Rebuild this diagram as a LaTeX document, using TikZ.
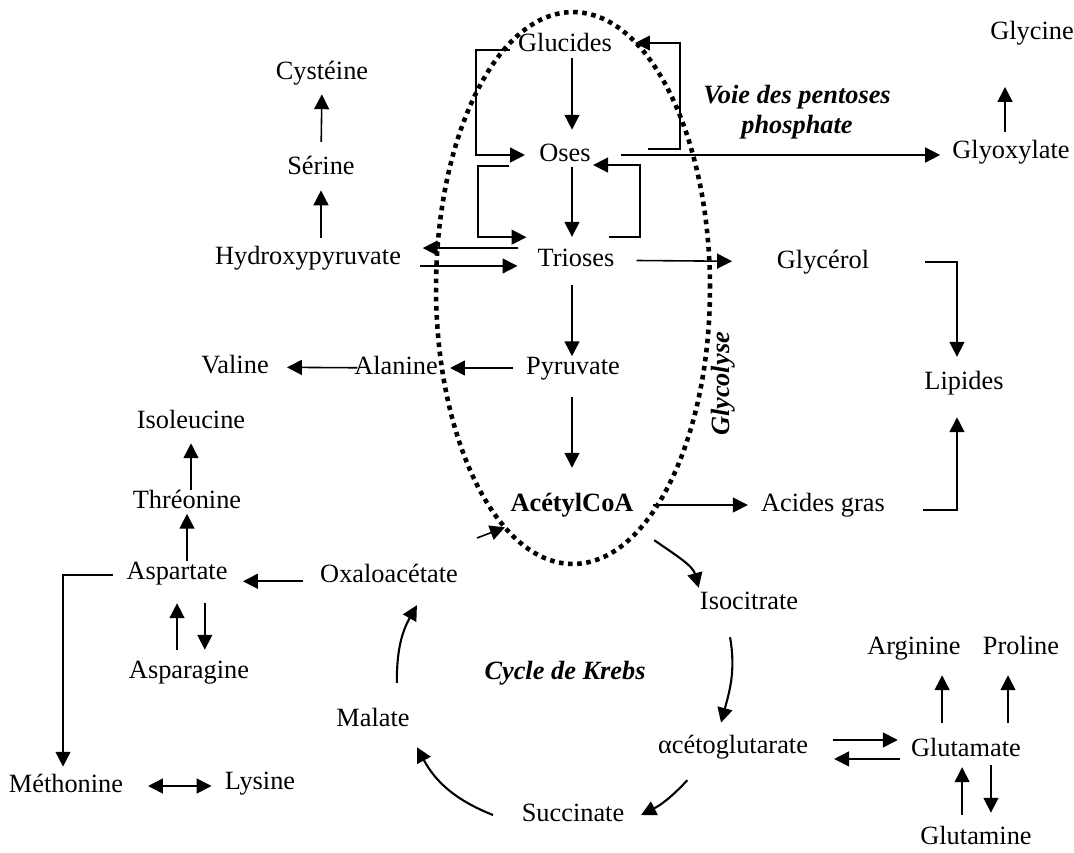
\documentclass[tikz,border=0pt]{standalone}
\usepackage{fontspec}
\setmainfont{Liberation Serif}
\usetikzlibrary{arrows.meta}

\begin{document}
\begin{tikzpicture}[x=0.02cm, y=-0.02cm,
  met/.style={font=\fontsize{15}{17}\selectfont, inner sep=0pt, text height=10pt, text depth=3pt},
  titre/.style={font=\fontsize{15}{17}\selectfont\bfseries\itshape, inner sep=0pt, align=center},
  fleche/.style={-{Triangle[length=8.5pt,width=8.5pt]}, line width=0.9pt},
  courbe/.style={fleche, line width=1.2pt},
  bifleche/.style={{Triangle[length=8.5pt,width=8.5pt]}-{Triangle[length=8.5pt,width=8.5pt]}, line width=0.9pt},
  pointilles/.style={line width=2.6pt, dash pattern=on 2.6pt off 2.6pt}]
  \useasboundingbox (0,0) rectangle (1074,852);

  % glycolyse
  \node[met] (glucides) at (565,45) {Glucides};
  \node[met] (oses) at (565,155) {Oses};
  \node[met] (trioses) at (576,260) {Trioses};
  \node[met] (pyruvate) at (573,368) {Pyruvate};
  \node[met, font=\fontsize{15}{17}\selectfont\bfseries] (acetyl) at (572,505) {AcétylCoA};
  \draw[pointilles] (573,288) ellipse [x radius=2.74cm, y radius=5.52cm];
  \node[titre, rotate=90] (glycolyse) at (723,384) {Glycolyse};

  % cote gauche
  \node[met] (alanine) at (396,368) {Alanine};
  \node[met] (valine) at (235,367) {Valine};
  \node[met] (hydroxy) at (308,258) {Hydroxypyruvate};
  \node[met] (serine) at (321,168) {Sérine};
  \node[met] (cysteine) at (322,73) {Cystéine};

  % cote droit
  \node[titre] (pentoses) at (797,112) {Voie des pentoses\\phosphate};
  \node[met] (glyoxylate) at (1011,152) {Glyoxylate};
  \node[met] (glycine) at (1032,33) {Glycine};
  \node[met] (glycerol) at (823,262) {Glycérol};
  \node[met] (lipides) at (964,383) {Lipides};
  \node[met] (acides) at (823,505) {Acides gras};

  % cycle de Krebs
  \node[titre] (krebs) at (565,673) {Cycle de Krebs};
  \node[met] (isocitrate) at (749,603) {Isocitrate};
  \node[met] (akg) at (733,747) {αcétoglutarate};
  \node[met] (succinate) at (573,815) {Succinate};
  \node[met] (malate) at (373,720) {Malate};
  \node[met] (oxalo) at (389,576) {Oxaloacétate};

  % acides amines
  \node[met] (aspartate) at (177,573) {Aspartate};
  \node[met] (threonine) at (187,502) {Thréonine};
  \node[met] (isoleucine) at (191,422) {Isoleucine};
  \node[met] (asparagine) at (189,672) {Asparagine};
  \node[met] (methonine) at (66,786) {Méthonine};
  \node[met] (lysine) at (260,783) {Lysine};
  \node[met] (glutamate) at (966,750) {Glutamate};
  \node[met] (glutamine) at (976,838) {Glutamine};
  \node[met] (arginine) at (914,648) {Arginine};
  \node[met] (proline) at (1021,648) {Proline};

  % fleches de la glycolyse
  \draw[fleche, shorten <=0.8pt, shorten >=7.7pt] (glucides.south -| acetyl) -- (oses.north -| acetyl);
  \draw[fleche, shorten >=6.5pt] (oses.south -| acetyl) -- (trioses.north -| acetyl);
  \draw[fleche, shorten <=7.7pt] (trioses.south -| acetyl) -- (pyruvate.north -| acetyl);
  \draw[fleche, shorten <=9.9pt, shorten >=14.5pt] (pyruvate.south -| acetyl) -- (acetyl.north);
  \draw[fleche, shorten >=8pt] ([xshift=-4.5pt,yshift=-2.8pt]glucides.west) -- ++(-34,0) |- (oses.west);
  \draw[fleche, shorten >=13pt] ([xshift=32.5pt,yshift=3.4pt]oses.east) -- ++(32,0) |- ([yshift=1.1pt]glucides.east);
  \draw[fleche, shorten >=6.2pt] ([xshift=-17pt,yshift=-6.2pt]oses.west) -- ++(-31,0) |- ([yshift=13pt]trioses.west);
  \draw[fleche, shorten >=1.2pt] ([xshift=-3.4pt,yshift=13pt]trioses.east) -- ++(31,0) |- ([yshift=-5.7pt]oses.east);

  % fleches a gauche
  \draw[fleche, shorten <=7.4pt, shorten >=6.8pt] (pyruvate) -- (alanine);
  \draw[fleche, shorten <=-2pt, shorten >=10.2pt] (alanine) -- (valine);
  \draw[fleche, shorten <=4.8pt, shorten >=6pt] (hydroxy.north -| serine) -- (serine.south);
  \draw[fleche, shorten <=8.2pt, shorten >=5.4pt] (serine.north) -- (cysteine.south);
  \draw[fleche, shorten <=10.8pt, shorten >=12.2pt] ([yshift=6.8pt]trioses.west) -- ([yshift=6.8pt]trioses.west -| hydroxy.east);
  \draw[fleche, shorten <=10.5pt, shorten >=11.3pt] ([yshift=-3.4pt]trioses.west -| hydroxy.east) -- ([yshift=-3.4pt]trioses.west);

  % fleches a droite
  \draw[fleche, shorten <=17.2pt, shorten >=6.8pt] (oses.east) -- (oses.east -| glyoxylate.west);
  \draw[fleche, shorten <=4.8pt, shorten >=24pt] ([xshift=-3.4pt]glyoxylate.north) -- ([xshift=-3.4pt]glyoxylate.north |- glycine.south);
  \draw[fleche, shorten <=12.5pt, shorten >=25.3pt] (trioses) -- (glycerol);
  \draw[fleche, shorten >=8.2pt] ([xshift=31.6pt]glycerol.east) -| ([xshift=-4pt]lipides.north);
  \draw[fleche, shorten >=12.8pt] ([xshift=21.5pt,yshift=-2.8pt]acides.east) -| ([xshift=-4pt]lipides.south);
  \draw[fleche, shorten <=11pt, shorten >=7.4pt] (acetyl) -- (acides);

  % cycle de Krebs
  \coordinate (arrivee) at (477,538);
  \draw[fleche] (arrivee) -- ([xshift=-3pt,yshift=-6pt]acetyl.south west);
  \draw[courbe, shorten >=2pt] ([xshift=11.6pt,yshift=-13.3pt]acetyl.south east) to[out=-35, in=105] (isocitrate.north west);
  \draw[courbe] ([xshift=-10.8pt,yshift=-12.8pt]isocitrate.south) to[out=-80, in=75] ([xshift=-6.8pt,yshift=7.1pt]akg.north);
  \draw[courbe] ([xshift=-26pt,yshift=-12.2pt]akg.south) to[bend left=10] ([xshift=9.4pt]succinate.east);
  \draw[courbe] ([xshift=-16.2pt]succinate.west) to[bend left=20] ([xshift=4pt,yshift=-8.8pt]malate.south east);
  \draw[courbe] ([xshift=13.6pt,yshift=14.5pt]malate.north) to[bend left=15] ([xshift=15.9pt,yshift=-9.9pt]oxalo.south);

  % acides amines
  \draw[fleche, shorten <=9.4pt, shorten >=8.6pt] ([yshift=-3pt]oxalo.west) -- ([yshift=-3pt]oxalo.west -| aspartate.east);
  \draw[fleche] (aspartate.north -| threonine) -- (threonine.south);
  \draw[fleche, shorten >=5.4pt] (threonine.north -| isoleucine) -- (isoleucine.south);
  \draw[fleche, shorten <=6pt, shorten >=10.5pt] ([xshift=-6.8pt]asparagine.north) -- ([xshift=-6.8pt]asparagine.north |- aspartate.south);
  \draw[fleche, shorten <=10.5pt, shorten >=6pt] ([xshift=9pt]asparagine.north |- aspartate.south) -- ([xshift=9pt]asparagine.north);
  \draw[fleche, shorten >=4.3pt] ([xshift=-7.4pt,yshift=-1pt]aspartate.west) -| ([xshift=-1.7pt]methonine.north);
  \draw[bifleche, shorten <=14pt, shorten >=7.4pt] (methonine.east) -- (methonine.east -| lysine.west);
  \draw[fleche, shorten <=14pt, shorten >=7.4pt] ([yshift=4pt]akg.east) -- ([yshift=4pt]akg.east -| glutamate.west);
  \draw[fleche, shorten <=6.2pt, shorten >=14.7pt] ([yshift=-6.8pt]akg.east -| glutamate.west) -- ([yshift=-6.8pt]akg.east);
  \draw[fleche, shorten <=8.8pt, shorten >=8.8pt] ([xshift=-13.6pt]glutamate.north) -- ([xshift=-13.6pt]glutamate.north |- arginine.south);
  \draw[fleche, shorten <=8.8pt, shorten >=8.8pt] ([xshift=-7.4pt]proline.south |- glutamate.north) -- ([xshift=-7.4pt]proline.south);
  \draw[fleche, shorten <=6.5pt, shorten >=3.1pt] ([xshift=-7.9pt]glutamine.north) -- ([xshift=-7.9pt]glutamine.north |- glutamate.south);
  \draw[fleche, shorten <=2pt, shorten >=7.7pt] ([xshift=8.5pt]glutamine.north |- glutamate.south) -- ([xshift=8.5pt]glutamine.north);
\end{tikzpicture}
\end{document}
